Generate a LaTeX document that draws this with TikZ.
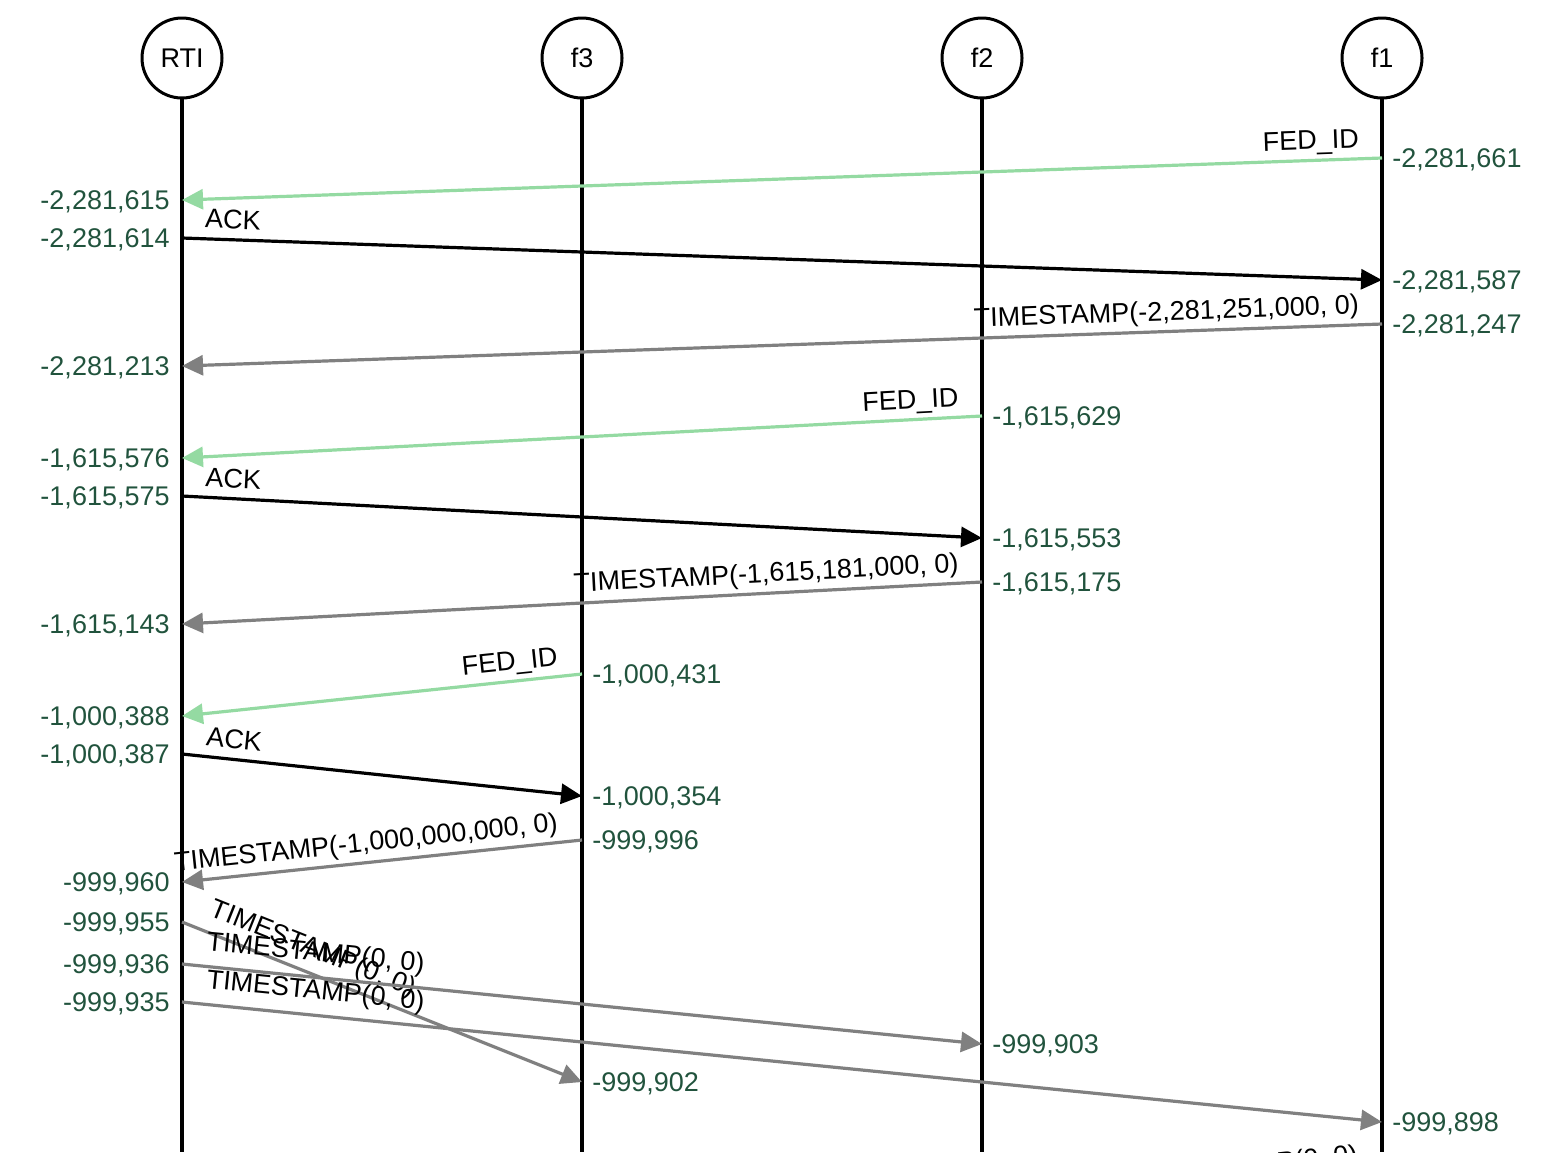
\documentclass[tikz,border=0pt]{standalone}
\usepackage{fontspec}
\setmainfont{Liberation Sans}
\usetikzlibrary{positioning,arrows.meta}

\definecolor{stampgreen}{RGB}{33,83,61}
\definecolor{fedgreen}{RGB}{148,218,162}
\definecolor{tsgray}{RGB}{128,128,128}

\tikzset{
  fed/.style={draw,circle,line width=1.5pt,minimum size=40pt,inner sep=0pt,outer sep=0pt},
  life/.style={line width=1.6pt},
  msg/.style={line width=1.6pt,-{Triangle[length=10.5pt,width=10pt]}},
  idmsg/.style={msg,fedgreen},
  ackmsg/.style={msg,black},
  tsmsg/.style={msg,tsgray},
  msglabel/.style={sloped,pos=0,inner xsep=10.5pt,inner ysep=2pt,text=black},
  labl/.style={msglabel,anchor=south east},
  labr/.style={msglabel,anchor=south west,inner ysep=4.5pt},
  stampl/.style={anchor=east,inner sep=0pt,xshift=-6pt,yshift=-1pt,text=stampgreen},
  stampr/.style={anchor=west,inner sep=0pt,xshift=5pt,yshift=-1pt,text=stampgreen}
}

\begin{document}
\begin{tikzpicture}[x=0.5pt,y=-0.5pt,font=\fontsize{13.5}{16}\selectfont]
  \useasboundingbox (0,0) rectangle (1550,1152);
  \clip (0,0) rectangle (1550,1152);

  % federates and the RTI
  \node[fed] (rti) at (182,58) {RTI};
  \node[fed,right=160pt of rti] (fthree) {f3};
  \node[fed,right=160pt of fthree] (ftwo) {f2};
  \node[fed,right=160pt of ftwo] (fone) {f1};

  \draw[life] (rti.south) -- (rti |- 0,1152);
  \draw[life] (fthree.south) -- (fthree |- 0,1152);
  \draw[life] (ftwo.south) -- (ftwo |- 0,1152);
  \draw[life] (fone.south) -- (fone |- 0,1152);

  % f1 joins
  \path (fone |- 0,158) coordinate (oneidout) node[stampr] {-2,281,661};
  \path (rti |- 0,200) coordinate (oneidin) node[stampl] {-2,281,615};
  \draw[idmsg] (oneidout) -- node[labl] {FED\_ID} (oneidin);

  \path (rti |- 0,238) coordinate (oneackout) node[stampl] {-2,281,614};
  \path (fone |- 0,280) coordinate (oneackin) node[stampr] {-2,281,587};
  \draw[ackmsg] (oneackout) -- node[labr] {ACK} (oneackin);

  \path (fone |- 0,324) coordinate (onetsout) node[stampr] {-2,281,247};
  \path (rti |- 0,366) coordinate (onetsin) node[stampl] {-2,281,213};
  \draw[tsmsg] (onetsout) -- node[labl] {TIMESTAMP(-2,281,251,000, 0)} (onetsin);

  % f2 joins
  \path (ftwo |- 0,416) coordinate (twoidout) node[stampr] {-1,615,629};
  \path (rti |- 0,458) coordinate (twoidin) node[stampl] {-1,615,576};
  \draw[idmsg] (twoidout) -- node[labl] {FED\_ID} (twoidin);

  \path (rti |- 0,496) coordinate (twoackout) node[stampl] {-1,615,575};
  \path (ftwo |- 0,538) coordinate (twoackin) node[stampr] {-1,615,553};
  \draw[ackmsg] (twoackout) -- node[labr] {ACK} (twoackin);

  \path (ftwo |- 0,582) coordinate (twotsout) node[stampr] {-1,615,175};
  \path (rti |- 0,624) coordinate (twotsin) node[stampl] {-1,615,143};
  \draw[tsmsg] (twotsout) -- node[labl] {TIMESTAMP(-1,615,181,000, 0)} (twotsin);

  % f3 joins
  \path (fthree |- 0,674) coordinate (threeidout) node[stampr] {-1,000,431};
  \path (rti |- 0,716) coordinate (threeidin) node[stampl] {-1,000,388};
  \draw[idmsg] (threeidout) -- node[labl] {FED\_ID} (threeidin);

  \path (rti |- 0,754) coordinate (threeackout) node[stampl] {-1,000,387};
  \path (fthree |- 0,796) coordinate (threeackin) node[stampr] {-1,000,354};
  \draw[ackmsg] (threeackout) -- node[labr] {ACK} (threeackin);

  \path (fthree |- 0,840) coordinate (threetsout) node[stampr] {-999,996};
  \path (rti |- 0,882) coordinate (threetsin) node[stampl] {-999,960};
  \draw[tsmsg] (threetsout) -- node[labl] {TIMESTAMP(-1,000,000,000, 0)} (threetsin);

  % start times sent out
  \path (rti |- 0,922) coordinate (startthree) node[stampl] {-999,955};
  \path (fthree |- 0,1082) coordinate (gotthree) node[stampr] {-999,902};
  \draw[tsmsg] (startthree) -- node[labr] {TIMESTAMP(0, 0)} (gotthree);

  \path (rti |- 0,964) coordinate (starttwo) node[stampl] {-999,936};
  \path (ftwo |- 0,1044) coordinate (gottwo) node[stampr] {-999,903};
  \draw[tsmsg] (starttwo) -- node[labr] {TIMESTAMP(0, 0)} (gottwo);

  \path (rti |- 0,1002) coordinate (startone) node[stampl] {-999,935};
  \path (fone |- 0,1122) coordinate (gotone) node[stampr] {-999,898};
  \draw[tsmsg] (startone) -- node[labr] {TIMESTAMP(0, 0)} (gotone);

  % next message, cut off at the bottom
  \coordinate (nextout) at (fone |- 0,1172);
  \coordinate (nextin) at (ftwo |- 0,1214);
  \draw[tsmsg] (nextout) -- node[labl] {TIMESTAMP(0, 0)} (nextin);
\end{tikzpicture}
\end{document}
